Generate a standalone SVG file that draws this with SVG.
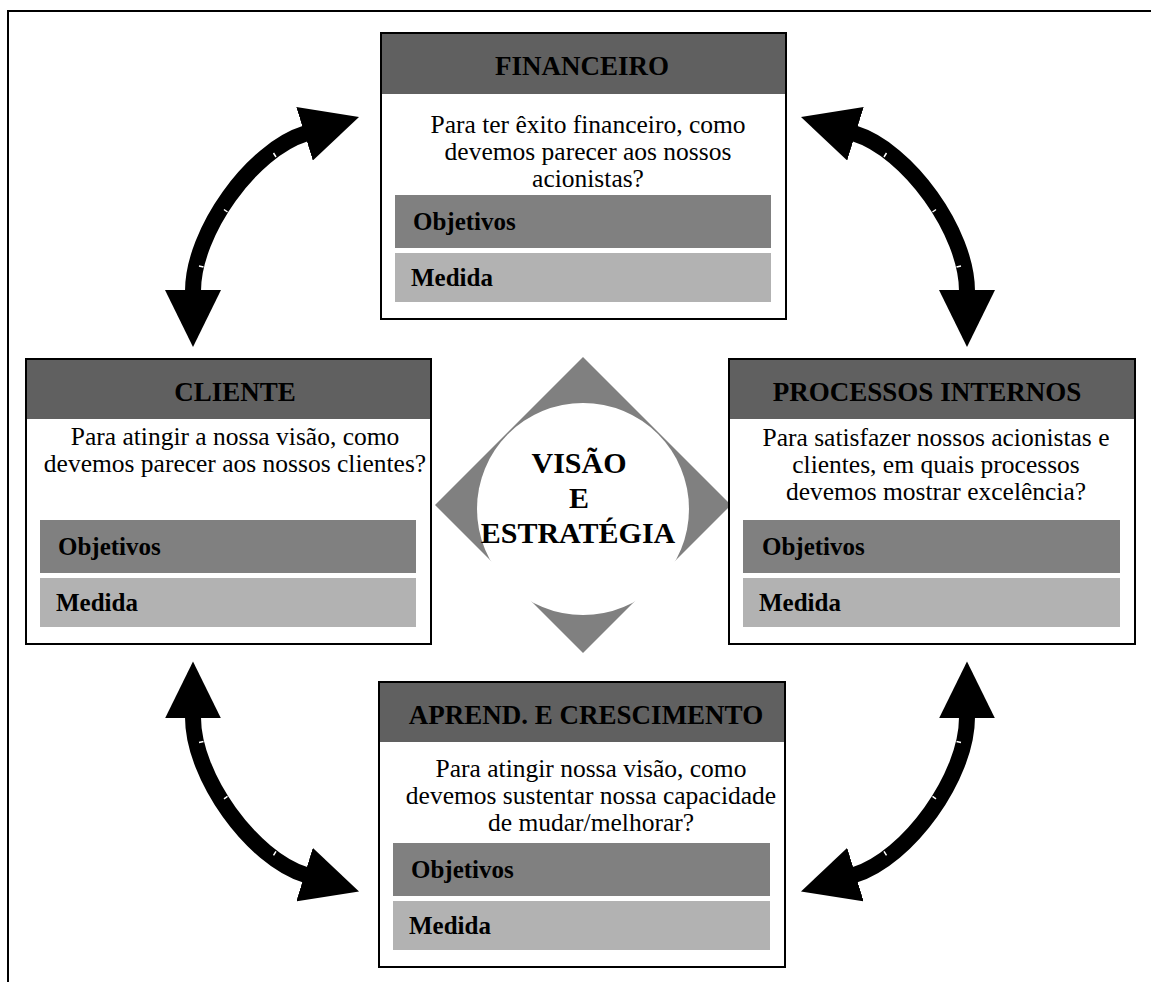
<svg xmlns="http://www.w3.org/2000/svg" width="1151" height="982" viewBox="0 0 1151 982">
  <style>
    text { font-family: "Liberation Serif", "Times New Roman", serif; fill: #000; }
    .frame { fill: #fff; stroke: #000; stroke-width: 2; }
    .head { fill: #606060; }
    .obj { fill: #808080; }
    .med { fill: #b2b2b2; }
    .title { font-size: 27px; font-weight: bold; text-anchor: middle; }
    .body { font-size: 25.5px; text-anchor: middle; }
    .lbl { font-size: 25px; font-weight: bold; }
    .core { font-size: 30px; font-weight: bold; text-anchor: middle; }
    .shaft { fill: none; stroke: #000; stroke-width: 16; marker-start: url(#tip); marker-end: url(#tip); }
    .seam { stroke: #fff; stroke-width: 1.5; }
    .border { stroke: #000; stroke-width: 2; fill: none; }
  </style>
  <defs>
    <marker id="tip" markerUnits="userSpaceOnUse" viewBox="0 -28 57 56" markerWidth="57" markerHeight="56" refX="1" refY="0" orient="auto-start-reverse">
      <path d="M0,-28 L57,0 L0,28 Z" fill="#000"/>
    </marker>
  </defs>

  <rect width="1151" height="982" fill="#fff"/>
  <!-- page frame: top and left rules only -->
  <path class="border" d="M8,982 V11 H1151"/>

  <!-- centre: vision and strategy -->
  <g id="visao">
    <polygon points="583,357 731,505 583,653 435,505" fill="#808080"/>
    <circle cx="583" cy="509" r="106" fill="#fff"/>
    <text class="core" x="579" y="473">VISÃO</text>
    <text class="core" x="579" y="508">E</text>
    <text class="core" x="578" y="543">ESTRATÉGIA</text>
  </g>

  <g id="financeiro">
    <rect class="frame" x="381" y="33" width="405" height="286"/>
    <rect class="head" x="382" y="34" width="403" height="60"/>
    <text class="title" x="582" y="75">FINANCEIRO</text>
    <text class="body" x="588" y="133">Para ter êxito financeiro, como</text>
    <text class="body" x="588" y="160">devemos parecer aos nossos</text>
    <text class="body" x="588" y="187">acionistas?</text>
    <rect class="obj" x="395" y="195" width="376" height="53"/>
    <text class="lbl" x="413" y="230">Objetivos</text>
    <rect class="med" x="395" y="253" width="376" height="49"/>
    <text class="lbl" x="411" y="286">Medida</text>
  </g>

  <g id="cliente">
    <rect class="frame" x="26" y="359" width="405" height="285"/>
    <rect class="head" x="27" y="360" width="403" height="59"/>
    <text class="title" x="235" y="401">CLIENTE</text>
    <text class="body" x="235" y="445">Para atingir a nossa visão, como</text>
    <text class="body" x="235" y="472">devemos parecer aos nossos clientes?</text>
    <rect class="obj" x="40" y="520" width="376" height="53"/>
    <text class="lbl" x="58" y="555">Objetivos</text>
    <rect class="med" x="40" y="578" width="376" height="49"/>
    <text class="lbl" x="56" y="611">Medida</text>
  </g>

  <g id="processos">
    <rect class="frame" x="729" y="359" width="406" height="285"/>
    <rect class="head" x="730" y="360" width="404" height="59"/>
    <text class="title" x="927" y="401">PROCESSOS INTERNOS</text>
    <text class="body" x="936" y="446">Para satisfazer nossos acionistas e</text>
    <text class="body" x="936" y="473">clientes, em quais processos</text>
    <text class="body" x="936" y="500">devemos mostrar excelência?</text>
    <rect class="obj" x="743" y="520" width="377" height="53"/>
    <text class="lbl" x="762" y="555">Objetivos</text>
    <rect class="med" x="743" y="578" width="377" height="49"/>
    <text class="lbl" x="759" y="611">Medida</text>
  </g>

  <g id="aprendizagem">
    <rect class="frame" x="379" y="682" width="406" height="285"/>
    <rect class="head" x="380" y="683" width="404" height="59"/>
    <text class="title" x="586" y="724">APREND. E CRESCIMENTO</text>
    <text class="body" x="591" y="777">Para atingir nossa visão, como</text>
    <text class="body" x="591" y="804">devemos sustentar nossa capacidade</text>
    <text class="body" x="591" y="831">de mudar/melhorar?</text>
    <rect class="obj" x="393" y="843" width="377" height="53"/>
    <text class="lbl" x="411" y="878">Objetivos</text>
    <rect class="med" x="393" y="901" width="377" height="49"/>
    <text class="lbl" x="409" y="934">Medida</text>
  </g>

  <!-- curved two-way arrows between the perspectives -->
  <g id="connectors">
    <path class="shaft" d="M193,291 C193,232 252,150 305.5,133.5"/>
    <path class="shaft" d="M967,291 C967,232 908,150 854.5,133.5"/>
    <path class="shaft" d="M193,717.4 C193,776.4 252,858.4 305.5,874.9"/>
    <path class="shaft" d="M967,717.4 C967,776.4 908,858.4 854.5,874.9"/>
    <!-- small light seams along the shafts -->
    <path class="seam" d="M203.5,267 L199,266 M227.5,212 L224,209.5 M276,157 L273.5,153"/>
    <path class="seam" d="M956.5,267 L961,266 M932.5,212 L936,209.5 M884,157 L886.5,153"/>
    <path class="seam" d="M203.5,741.4 L199,742.4 M227.5,796.4 L224,798.9 M276,851.4 L273.5,855.4"/>
    <path class="seam" d="M956.5,741.4 L961,742.4 M932.5,796.4 L936,798.9 M884,851.4 L886.5,855.4"/>
  </g>
</svg>
